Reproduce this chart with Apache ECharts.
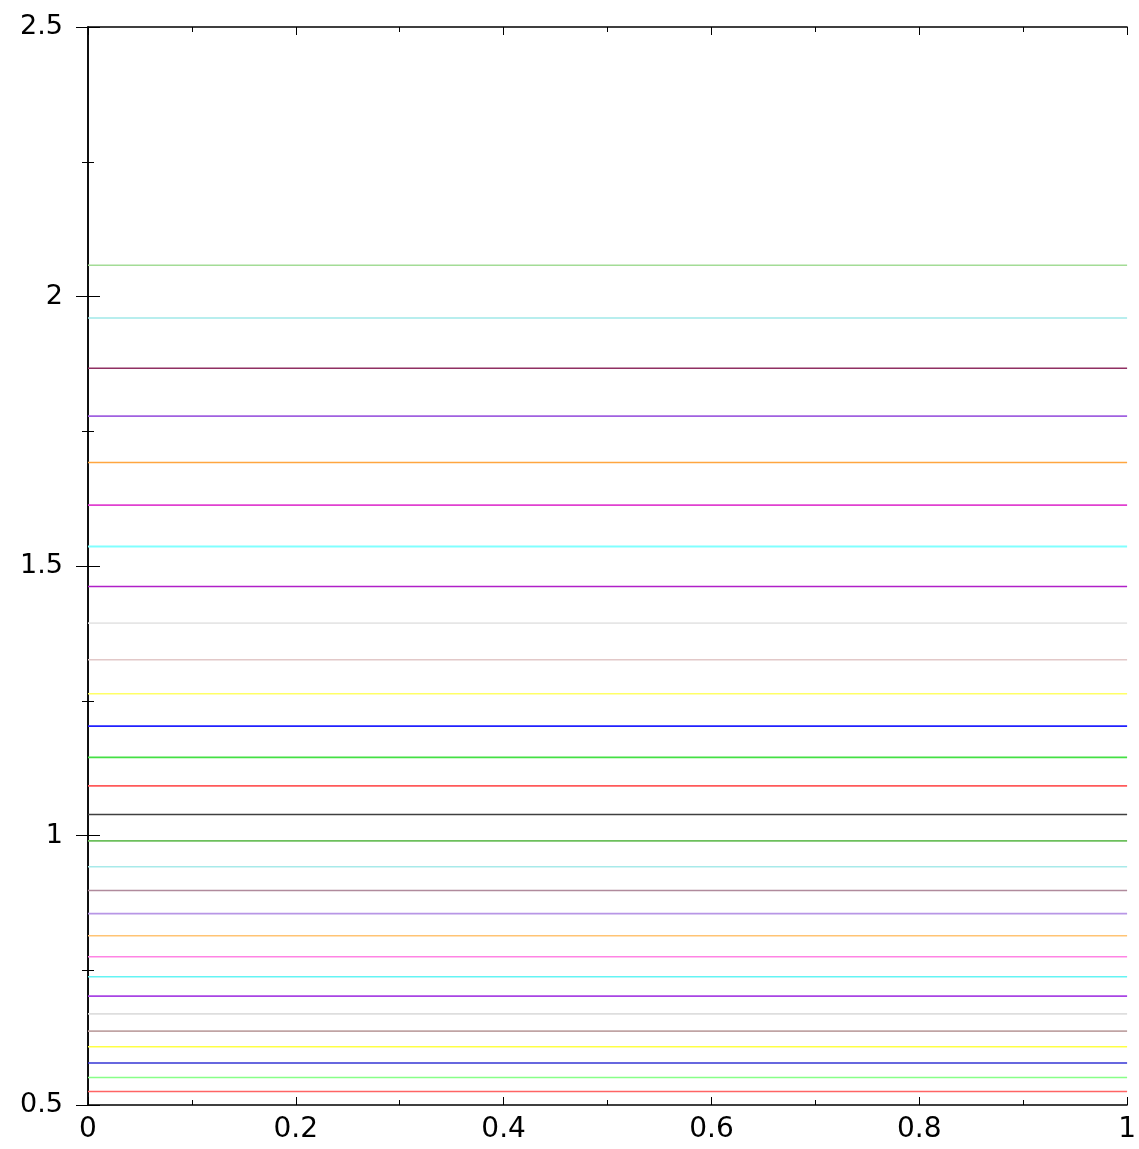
<!DOCTYPE html>
<html>
<head>
<meta charset="utf-8">
<script src="https://cdn.jsdelivr.net/npm/echarts@6/dist/echarts.min.js"></script>
<style>
html,body{margin:0;padding:0;background:#fff;}
#chart{width:1139px;height:1149px;}
</style>
</head>
<body>
<div id="chart"></div>
<script>
// Horizontal level values (top to bottom)
const levels = [2.058, 1.960, 1.867, 1.778, 1.692, 1.613, 1.536, 1.462, 1.394, 1.326,
  1.263, 1.203, 1.145, 1.092, 1.039, 0.990, 0.942, 0.898, 0.855, 0.814,
  0.775, 0.738, 0.702, 0.669, 0.637, 0.608, 0.578, 0.551, 0.525];
const xRange = [0, 1];
const lineColors = ['#a3dc96', '#a0e8e8', '#8f2f62', '#a060e0', '#ffa640', '#e040d0', '#80ffff', '#b020c8', '#e6e6e6', '#e2c8c8',
  '#ffff66', '#2020ff', '#44e044', '#ff5a5a', '#404040', '#6cbf5c', '#a8eaea', '#b08a9c', '#b896e6', '#ffc474',
  '#ff84e4', '#64f4f4', '#a844e4', '#dedede', '#c0a4a4', '#ffff44', '#3434d4', '#88ff88', '#ff6464'];
const xTicks = ['0', '0.2', '0.4', '0.6', '0.8', '1'];
const yTicks = ['0.5', '1', '1.5', '2', '2.5'];

const chart = echarts.init(document.getElementById('chart'), null, {renderer: 'canvas'});
const series = levels.map((v, i) => ({
  type: 'line',
  data: xRange.map(x => [x, v]),
  symbol: 'none',
  silent: true,
  animation: false,
  lineStyle: {color: lineColors[i], width: i === 6 ? 2 : 1.6}
}));
const fmtX = v => { const s = String(Math.round(v * 10) / 10); return xTicks.includes(s) ? s : ''; };
const fmtY = v => { const s = String(Math.round(v * 10) / 10); return yTicks.includes(s) ? s : ''; };
chart.setOption({
  animation: false,
  grid: {left: 88, right: 8, top: 27, bottom: 44, containLabel: false},
  xAxis: [{
    type: 'value', min: 0, max: 1, interval: 0.2, position: 'bottom',
    axisLine: {show: true, lineStyle: {color: '#000', width: 1.5}},
    axisTick: {show: true, inside: true, length: 8, lineStyle: {color: '#000', width: 1}},
    minorTick: {show: true, splitNumber: 2, length: 5, lineStyle: {color: '#000', width: 1}},
    splitLine: {show: false},
    axisLabel: {margin: 11, formatter: fmtX, fontFamily: 'DejaVu Sans, sans-serif', fontSize: 28, color: '#000'}
  }, {
    type: 'value', min: 0, max: 1, interval: 0.2, position: 'top',
    axisLine: {show: true, lineStyle: {color: '#000', width: 1.5}},
    axisTick: {show: true, inside: true, length: 8, lineStyle: {color: '#000', width: 1}},
    minorTick: {show: true, splitNumber: 2, length: 5, lineStyle: {color: '#000', width: 1}},
    splitLine: {show: false},
    axisLabel: {show: false}
  }],
  yAxis: [{
    type: 'value', min: 0.5, max: 2.5, interval: 0.5, position: 'left',
    axisLine: {show: true, lineStyle: {color: '#000', width: 1.5}},
    axisTick: {show: true, inside: true, length: 12, lineStyle: {color: '#000', width: 1}},
    minorTick: {show: true, splitNumber: 2, length: 6, lineStyle: {color: '#000', width: 1}},
    splitLine: {show: false},
    axisLabel: {margin: 25, formatter: fmtY, fontFamily: 'DejaVu Sans, sans-serif', fontSize: 27, color: '#000'}
  }, {
    type: 'value', min: 0.5, max: 2.5, interval: 0.5, position: 'right',
    axisLine: {show: true, lineStyle: {color: '#000', width: 1.5}},
    axisTick: {show: true, inside: true, length: 12, lineStyle: {color: '#000', width: 1}},
    minorTick: {show: true, splitNumber: 2, length: 6, lineStyle: {color: '#000', width: 1}},
    splitLine: {show: false},
    axisLabel: {show: false}
  }],
  series: series
});
</script>
</body>
</html>
